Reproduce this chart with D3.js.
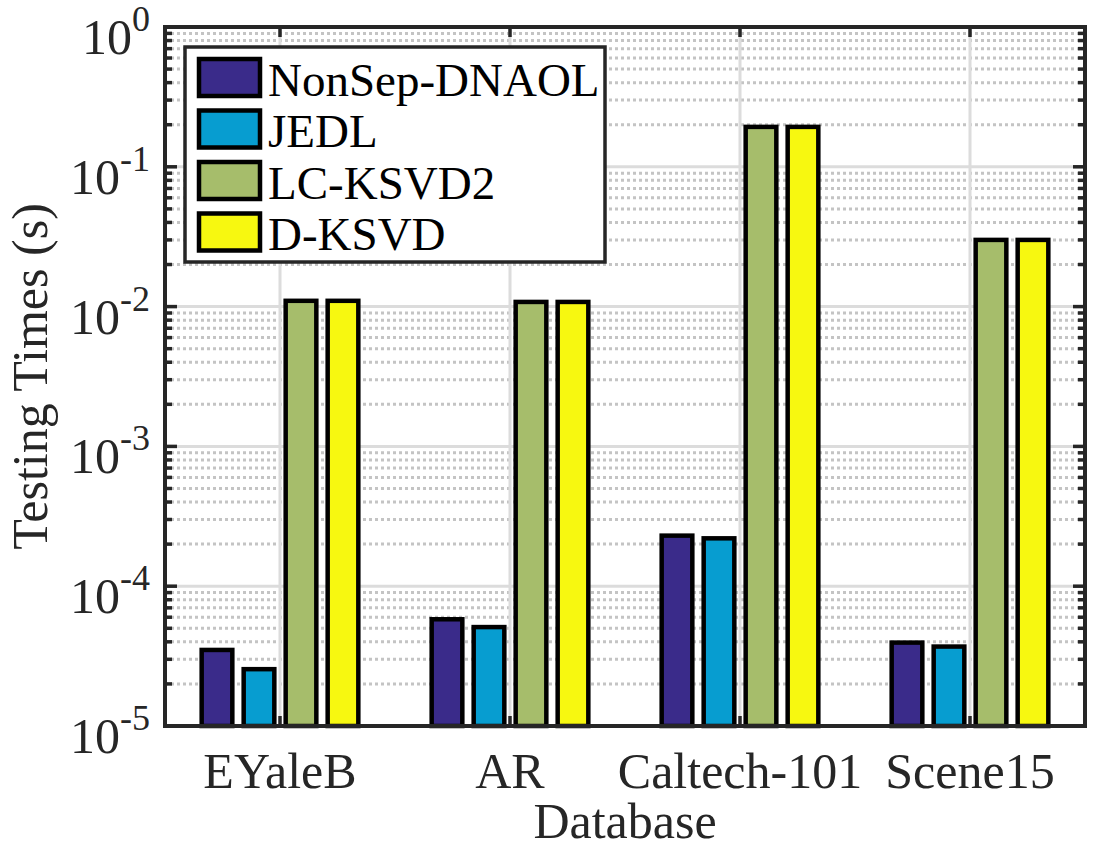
<!DOCTYPE html>
<html>
<head>
<meta charset="utf-8">
<script src="https://cdn.jsdelivr.net/npm/d3@7"></script>
<style>
  body { margin: 0; background: #fff; }
  text { font-family: "Liberation Serif", "Times New Roman", serif; }
</style>
</head>
<body>
<div id="chart"></div>
<script>
// data
const databases = ["EYaleB", "AR", "Caltech-101", "Scene15"];
const methods = ["NonSep-DNAOL", "JEDL", "LC-KSVD2", "D-KSVD"];
const nonSepDNAOL = [3.5e-5, 5.8e-5, 2.3e-4, 3.95e-5];
const jedl        = [2.55e-5, 5.1e-5, 2.2e-4, 3.7e-5];
const lcKsvd2     = [1.1e-2, 1.08e-2, 0.193, 0.030];
const dKsvd       = [1.1e-2, 1.08e-2, 0.193, 0.030];
const yTicks = [1e-5, 1e-4, 1e-3, 1e-2, 1e-1, 1];
const colors = ["#3a2b8a", "#079dd0", "#a6bd6b", "#f7f810"];

const seriesValues = [nonSepDNAOL, jedl, lcKsvd2, dKsvd];

const width = 1097, height = 849;
const margin = { top: 27, right: 12, bottom: 123, left: 165 };
const plotW = width - margin.left - margin.right;   // 920
const plotH = height - margin.top - margin.bottom;  // 699
const axisColor = "#262626";

const svg = d3.select("#chart").append("svg")
  .attr("width", width)
  .attr("height", height);

const g = svg.append("g")
  .attr("transform", `translate(${margin.left},${margin.top})`);

const x0 = d3.scaleBand()
  .domain(databases)
  .range([0, plotW]);

// inner band: 4 bars over 168px around the category centre
const x1 = d3.scaleBand()
  .domain(methods)
  .range([x0.bandwidth() / 2 - 84, x0.bandwidth() / 2 + 84])
  .paddingInner(0.27)
  .paddingOuter(0.135);

const y = d3.scaleLog()
  .domain([1e-5, 1])
  .range([plotH, 0]);

// minor values 2..9 x 10^k
const minorTicks = [];
for (let k = -5; k < 0; k++) {
  for (let m = 2; m <= 9; m++) minorTicks.push(m * Math.pow(10, k));
}

// grid
g.append("g").selectAll("line.minor")
  .data(minorTicks)
  .join("line")
  .attr("x1", 0).attr("x2", plotW)
  .attr("y1", d => y(d)).attr("y2", d => y(d))
  .attr("stroke", "#c4c4c4")
  .attr("stroke-width", 3)
  .attr("stroke-dasharray", "3,3");

g.append("g").selectAll("line.major")
  .data(yTicks)
  .join("line")
  .attr("x1", 0).attr("x2", plotW)
  .attr("y1", d => y(d)).attr("y2", d => y(d))
  .attr("stroke", "#dcdcdc")
  .attr("stroke-width", 3);

g.append("g").selectAll("line.vgrid")
  .data(databases)
  .join("line")
  .attr("x1", d => x0(d) + x0.bandwidth() / 2)
  .attr("x2", d => x0(d) + x0.bandwidth() / 2)
  .attr("y1", 0).attr("y2", plotH)
  .attr("stroke", "#dcdcdc")
  .attr("stroke-width", 3);

// ticks (drawn behind the bars)
const ticks = g.append("g").attr("stroke", axisColor).attr("stroke-width", 3.5);
yTicks.forEach(v => {
  ticks.append("line").attr("x1", 0).attr("x2", 12).attr("y1", y(v)).attr("y2", y(v));
  ticks.append("line").attr("x1", plotW).attr("x2", plotW - 12).attr("y1", y(v)).attr("y2", y(v));
});
minorTicks.forEach(v => {
  ticks.append("line").attr("x1", 0).attr("x2", 7).attr("y1", y(v)).attr("y2", y(v));
  ticks.append("line").attr("x1", plotW).attr("x2", plotW - 7).attr("y1", y(v)).attr("y2", y(v));
});
databases.forEach(d => {
  const cx = x0(d) + x0.bandwidth() / 2;
  ticks.append("line").attr("x1", cx).attr("x2", cx).attr("y1", plotH).attr("y2", plotH - 10);
  ticks.append("line").attr("x1", cx).attr("x2", cx).attr("y1", 0).attr("y2", 10);
});

// bars
const groups = g.append("g").selectAll("g")
  .data(databases)
  .join("g")
  .attr("transform", d => `translate(${x0(d)},0)`);

groups.selectAll("rect")
  .data((d, i) => methods.map((m, j) => ({ method: m, value: seriesValues[j][i], color: colors[j] })))
  .join("rect")
  .attr("x", d => x1(d.method))
  .attr("width", x1.bandwidth())
  .attr("y", d => y(d.value))
  .attr("height", d => plotH - y(d.value))
  .attr("fill", d => d.color)
  .attr("stroke", "#000")
  .attr("stroke-width", 4.5);

// frame
g.append("rect")
  .attr("x", 0).attr("y", 0)
  .attr("width", plotW).attr("height", plotH)
  .attr("fill", "none")
  .attr("stroke", axisColor)
  .attr("stroke-width", 4);

// x tick labels
g.append("g").selectAll("text")
  .data(databases)
  .join("text")
  .attr("x", d => x0(d) + x0.bandwidth() / 2)
  .attr("y", plotH + 62)
  .attr("text-anchor", "middle")
  .attr("fill", axisColor)
  .style("font-size", "50px")
  .text(d => d);

// y tick labels: 10^k
g.append("g").selectAll("text")
  .data(yTicks)
  .join("text")
  .attr("x", -15)
  .attr("y", d => y(d) + 27)
  .attr("text-anchor", "end")
  .attr("fill", axisColor)
  .style("font-size", "50px")
  .each(function (d) {
    const t = d3.select(this);
    t.append("tspan").text("10");
    t.append("tspan")
      .attr("dy", -23)
      .style("font-size", "36px")
      .text(Math.round(Math.log10(d)));
  });

// axis titles
svg.append("text")
  .attr("x", margin.left + plotW / 2)
  .attr("y", 838)
  .attr("text-anchor", "middle")
  .attr("fill", axisColor)
  .style("font-size", "50px")
  .text("Database");

svg.append("text")
  .attr("transform", `translate(47,${margin.top + plotH / 2}) rotate(-90)`)
  .attr("text-anchor", "middle")
  .attr("fill", axisColor)
  .style("font-size", "50px")
  .text("Testing Times (s)");

// legend
const legend = svg.append("g");
legend.append("rect")
  .attr("x", 185).attr("y", 47)
  .attr("width", 420).attr("height", 215)
  .attr("fill", "#fff")
  .attr("stroke", axisColor)
  .attr("stroke-width", 3.5);

methods.forEach((m, i) => {
  const cy = 77.5 + i * 51.5;
  legend.append("rect")
    .attr("x", 199).attr("y", cy - 18.5)
    .attr("width", 61).attr("height", 37)
    .attr("fill", colors[i])
    .attr("stroke", "#000")
    .attr("stroke-width", 4.5);
  legend.append("text")
    .attr("x", 268)
    .attr("y", cy + 18)
    .attr("fill", "#000")
    .style("font-size", "47px")
    .text(m);
});
</script>
</body>
</html>
